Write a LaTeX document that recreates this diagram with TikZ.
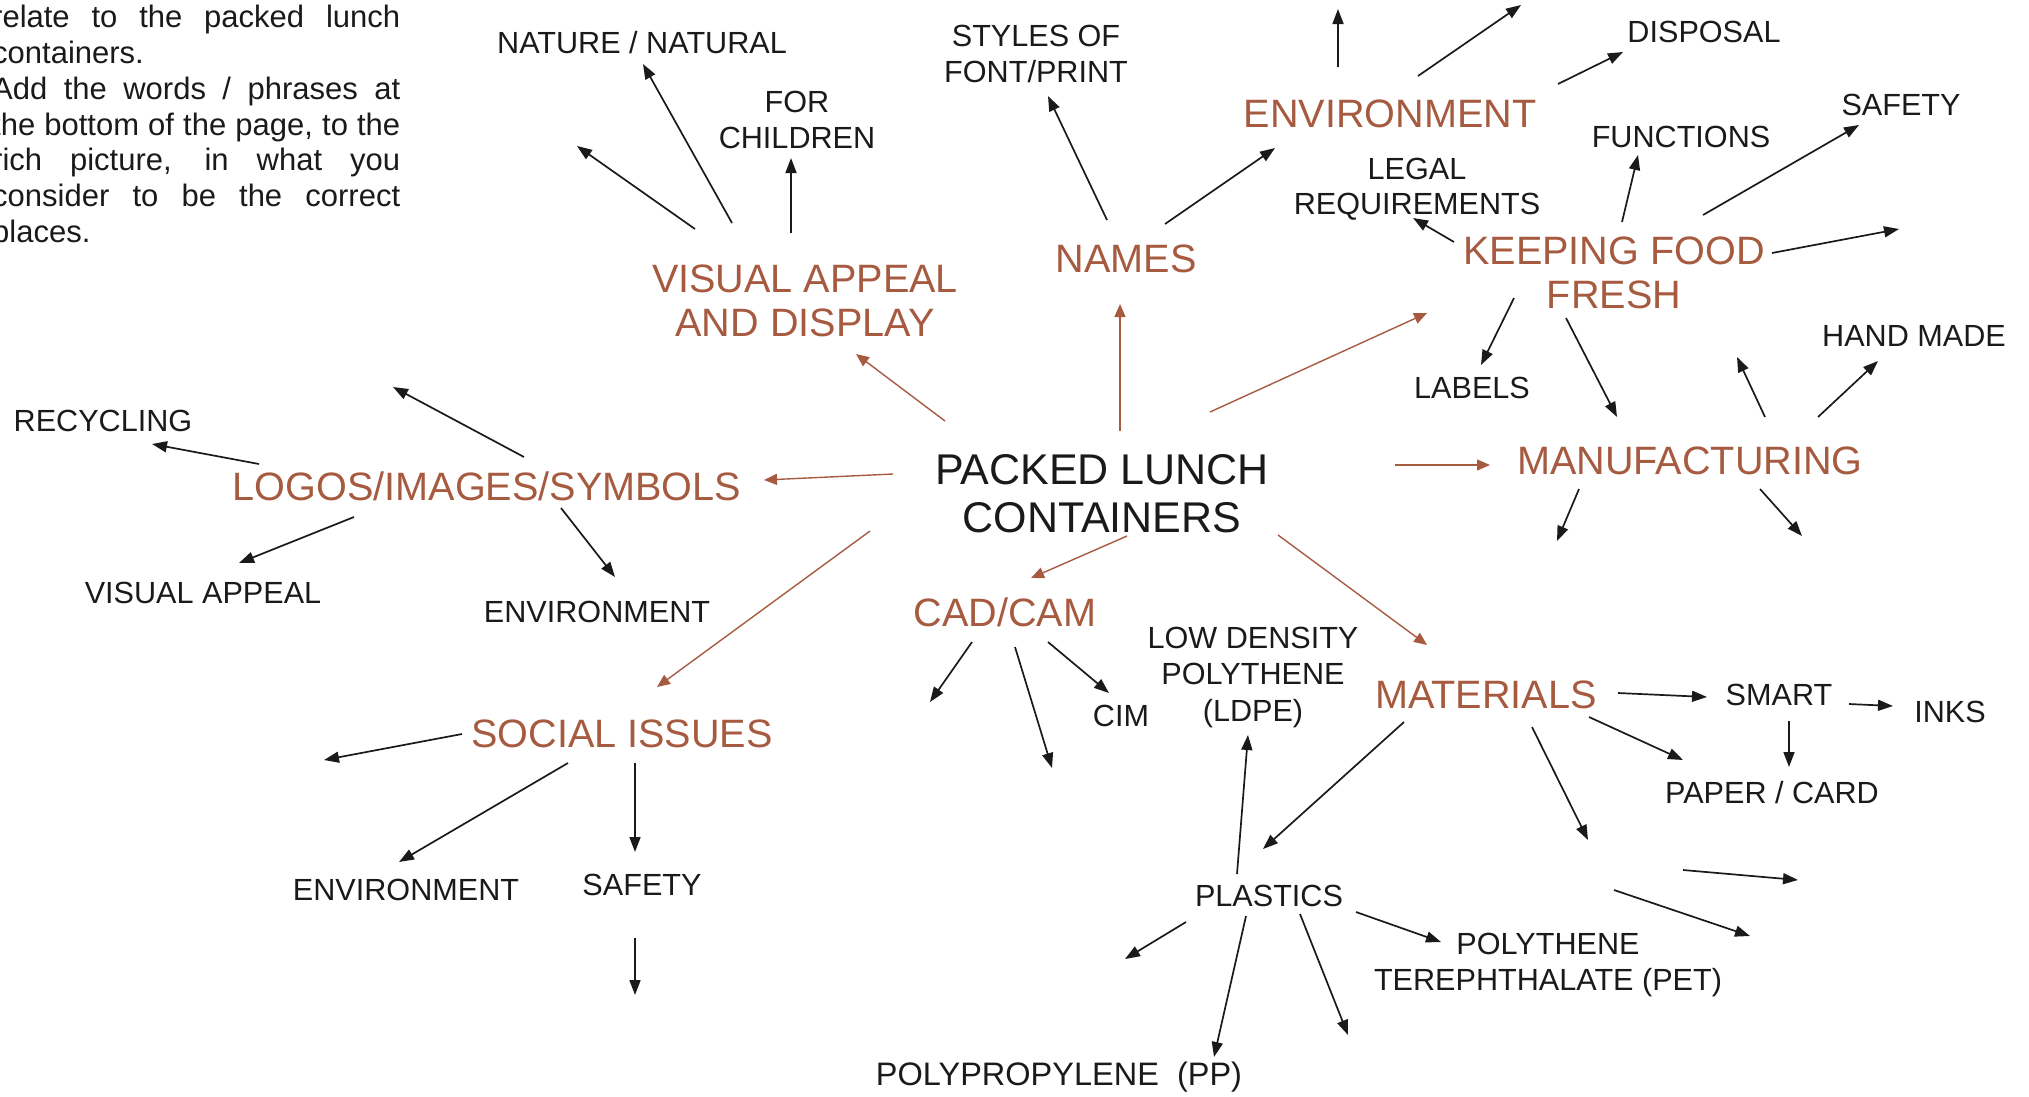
\documentclass[tikz,border=0pt]{standalone}
\usepackage{fontspec}
\setmainfont{Liberation Sans}
\usetikzlibrary{arrows.meta}
\definecolor{brn}{RGB}{166,91,64}
\definecolor{ink}{RGB}{26,26,26}
\tikzset{
 lbl/.style={text=ink, font=\fontsize{30.6}{35.5}\selectfont, align=center, inner sep=0pt},
 topic/.style={text=brn, font=\fontsize{39.6}{43.5}\selectfont, align=center, inner sep=0pt},
 hub/.style={text=ink, font=\fontsize{43}{48}\selectfont, align=center, inner sep=0pt},
 para/.style={text=ink, font=\fontsize{31}{36}\selectfont, inner sep=0pt, anchor=base west},
 blk/.style={draw=ink, line width=1.7pt, -{Triangle[length=15pt,width=11pt]}},
 brarr/.style={draw=brn, line width=1.4pt, -{Triangle[length=13pt,width=11pt]}},
}
\newcommand\karrow[4]{\coordinate (#1s) at (#2); \coordinate (#1e) at (#3); \draw[#4] (#1s) -- (#1e);}
\begin{document}
\begin{tikzpicture}[x=1pt,y=-1pt]
\useasboundingbox (0,0) rectangle (2029,1096);
\clip (0,0) rectangle (2029,1096);
% instruction text (cut at left edge, as in the reference)
\node[para] (p1) at (-8,27) {\makebox[408pt][s]{relate to the packed lunch}};
\node[para] (p2) at (-8,63) {containers.};
\node[para] (p3) at (-8,99) {\makebox[408pt][s]{Add the words / phrases at}};
\node[para] (p4) at (-8,135) {\makebox[408pt][s]{the bottom of the page, to the}};
\node[para] (p5) at (-8,170) {\makebox[408pt][s]{rich picture, in what you}};
\node[para] (p6) at (-8,206) {\makebox[408pt][s]{consider to be the correct}};
\node[para] (p7) at (-8,242) {places.};

% hub and topics
\node[hub] (hub) at (1102,494) {PACKED LUNCH\\CONTAINERS};
\node[topic] (va) at (805,301) {VISUAL APPEAL\\AND DISPLAY};
\node[topic] (names) at (1126,259) {NAMES};
\node[topic] (env) at (1390,114) {ENVIRONMENT};
\node[topic] (kff) at (1614,273) {KEEPING FOOD\\FRESH};
\node[topic] (manu) at (1690,461) {MANUFACTURING};
\node[topic] (mat) at (1486,695) {MATERIALS};
\node[topic] (cad) at (1005,612) {CAD/CAM};
\node[topic] (soc) at (622,734) {SOCIAL ISSUES};
\node[topic] (logo) at (487,486) {LOGOS/IMAGES/SYMBOLS};

% labels
\node[lbl] (nat) at (642,43) {NATURE / NATURAL};
\node[lbl] (kids) at (797,120) {FOR\\CHILDREN};
\node[lbl] (styles) at (1036,54) {STYLES OF\\FONT/PRINT};
\node[lbl] (disp) at (1704,32) {DISPOSAL};
\node[lbl] (func) at (1681,137) {FUNCTIONS};
\node[lbl] (safe1) at (1901,105) {SAFETY};
\node[lbl] (legal) at (1417,189) {LEGAL\\REQUIREMENTS};
\node[lbl] (labels) at (1472,388) {LABELS};
\node[lbl] (hand) at (1914,336) {HAND MADE};
\node[lbl] (recy) at (103,421) {RECYCLING};
\node[lbl] (vis) at (203,593) {VISUAL APPEAL};
\node[lbl] (env2) at (597,612) {ENVIRONMENT};
\node[lbl] (cim) at (1121,716) {CIM};
\node[lbl, font=\fontsize{30.6}{36.5}\selectfont] (ldpe) at (1253,677) {LOW DENSITY\\POLYTHENE\\(LDPE)};
\node[lbl] (smart) at (1779,695) {SMART};
\node[lbl] (inks) at (1950,712) {INKS};
\node[lbl] (paper) at (1772,793) {PAPER / CARD};
\node[lbl] (env3) at (406,890) {ENVIRONMENT};
\node[lbl] (safe2) at (642,885) {SAFETY};
\node[lbl] (plast) at (1269,896) {PLASTICS};
\node[lbl] (pet) at (1548,965) {POLYTHENE\\TEREPHTHALATE (PET)};
\node[lbl, font=\fontsize{32.5}{38}\selectfont] (pp) at (1059,1077) {POLYPROPYLENE\ \ (PP)};

% brown arrows from hub
\karrow{ba1}{945,421}{856,354}{brarr}
\karrow{ba2}{1120,431}{1120,304}{brarr}
\karrow{ba3}{1210,412}{1427,313}{brarr}
\karrow{ba4}{1395,465}{1490,465}{brarr}
\karrow{ba5}{1278,535}{1427,645}{brarr}
\karrow{ba6}{1127,536}{1031,578}{brarr}
\karrow{ba7}{870,531}{657,687}{brarr}
\karrow{ba8}{893,474}{764,480}{brarr}

% black arrows: visual appeal
\karrow{k1}{695,229}{577,146}{blk}
\karrow{k2}{732,223}{643,64}{blk}
\karrow{k3}{791,233}{791,158}{blk}
% names
\karrow{k4}{1107,220}{1048,96}{blk}
\karrow{k5}{1165,224}{1275,148}{blk}
% environment
\karrow{k6}{1338,67}{1338,9}{blk}
\karrow{k7}{1418,76}{1521,5}{blk}
\karrow{k8}{1558,84}{1623,52}{blk}
% keeping food fresh
\karrow{k9}{1454,242}{1413,218}{blk}
\karrow{k10}{1622,222}{1638,155}{blk}
\karrow{k11}{1703,215}{1859,125}{blk}
\karrow{k12}{1772,253}{1899,229}{blk}
\karrow{k13}{1514,298}{1481,365}{blk}
\karrow{k14}{1566,318}{1617,417}{blk}
% manufacturing
\karrow{k15}{1765,417}{1737,357}{blk}
\karrow{k16}{1818,417}{1878,361}{blk}
\karrow{k17}{1579,489}{1557,541}{blk}
\karrow{k18}{1760,489}{1802,536}{blk}
% logos
\karrow{k19}{524,457}{393,387}{blk}
\karrow{k20}{259,464}{152,444}{blk}
\karrow{k21}{354,517}{239,563}{blk}
\karrow{k22}{561,508}{615,577}{blk}
% cad/cam
\karrow{k23}{972,642}{930,702}{blk}
\karrow{k24}{1015,647}{1052,768}{blk}
\karrow{k25}{1048,642}{1109,693}{blk}
% social issues
\karrow{k26}{462,734}{324,760}{blk}
\karrow{k27}{568,763}{399,862}{blk}
\karrow{k28}{635,763}{635,852}{blk}
\karrow{k29}{635,938}{635,995}{blk}
% materials
\karrow{k30}{1618,693}{1707,697}{blk}
\karrow{k31}{1849,704}{1893,706}{blk}
\karrow{k32}{1789,721}{1789,767}{blk}
\karrow{k33}{1589,717}{1683,760}{blk}
\karrow{k34}{1532,727}{1588,840}{blk}
\karrow{k35}{1404,722}{1263,849}{blk}
\karrow{k36}{1683,870}{1798,880}{blk}
\karrow{k37}{1614,890}{1750,936}{blk}
% plastics
\karrow{k38}{1237,874}{1248,735}{blk}
\karrow{k39}{1356,912}{1441,942}{blk}
\karrow{k40}{1186,922}{1125,959}{blk}
\karrow{k41}{1246,916}{1214,1057}{blk}
\karrow{k42}{1300,914}{1348,1035}{blk}
\end{tikzpicture}
\end{document}
